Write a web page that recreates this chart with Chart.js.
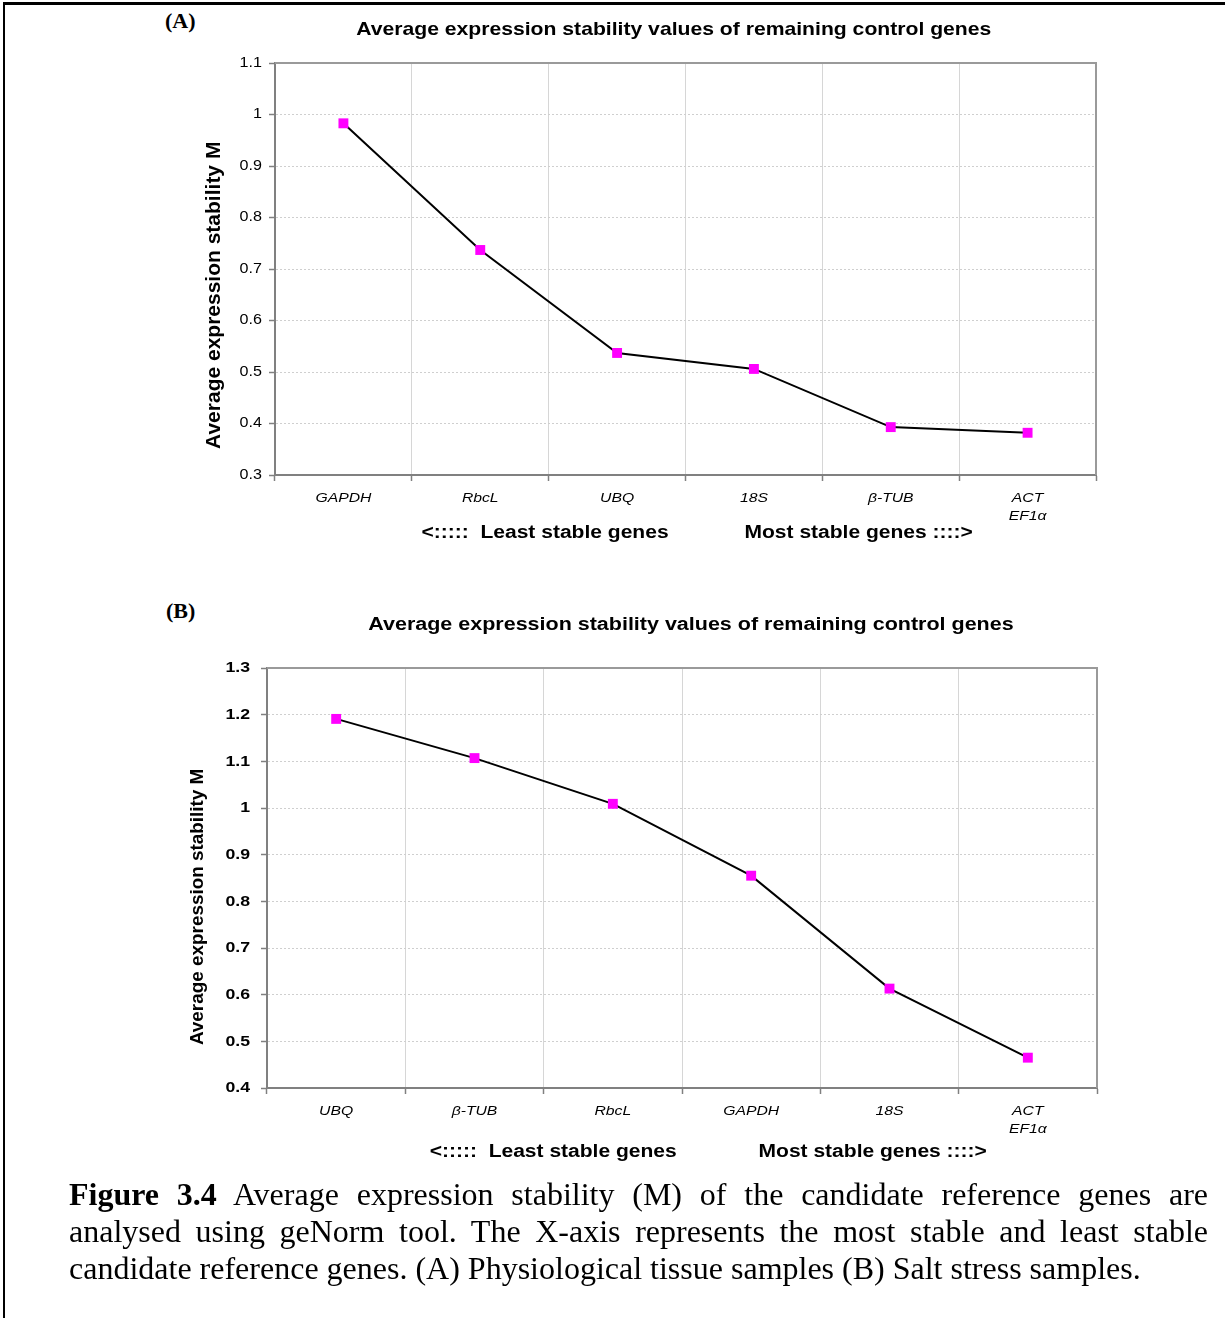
<!DOCTYPE html>
<html>
<head>
<meta charset="utf-8">
<script src="https://cdn.jsdelivr.net/npm/chart.js@4"></script>
<style>
  body { margin: 0; background: #fff; width: 1225px; height: 1318px; overflow: hidden; position: relative; }
  .frame { position: absolute; left: 3px; top: 2px; width: 1400px; height: 1400px; border-top: 3px solid #000; border-left: 2px solid #000; }
  .panel { position: absolute; font: bold 22px "Liberation Serif", "Times New Roman", serif; }
  canvas { position: absolute; left: 0; }
  .caption { position: absolute; left: 69px; top: 1176px; width: 1139px; font: 32px/37px "Liberation Serif", "Times New Roman", serif; text-align: justify; color: #000; }
</style>
</head>
<body>
<div class="frame"></div>
<div class="panel" style="left:165px; top:8px;">(A)</div>
<div class="panel" style="left:166px; top:598px;">(B)</div>
<canvas id="chartA" width="1225" height="560" style="top:0;"></canvas>
<canvas id="chartB" width="1225" height="600" style="top:580px;"></canvas>
<div class="caption"><b>Figure 3.4</b> Average expression stability (M) of the candidate reference genes are analysed using geNorm tool. The X-axis represents the most stable and least stable candidate reference genes. (A) Physiological tissue samples (B) Salt stress samples.</div>

<script>
// genes ordered from least to most stable, geNorm M values
const genesA = ["GAPDH", "RbcL", "UBQ", "18S", "β-TUB", ["ACT", "EF1α"]];
const stabilityA = [0.983, 0.737, 0.537, 0.506, 0.393, 0.382];
const yRangeA = [0.3, 1.1];

const genesB = ["UBQ", "β-TUB", "RbcL", "GAPDH", "18S", ["ACT", "EF1α"]];
const stabilityB = [1.191, 1.107, 1.009, 0.855, 0.613, 0.465];
const yRangeB = [0.4, 1.3];

const yStep = 0.1;
const titleA = "Average expression stability values of remaining control genes    ";
const titleB = "   Average expression stability values of remaining control genes";
const yTitleA = "Average expression stability M         ";
const yTitleB = "Average expression stability M           ";
const xTitleA = "    <:::::  Least stable genes             Most stable genes ::::>";
const xTitleB = "         <:::::  Least stable genes              Most stable genes ::::>";

const TEXT_STRETCH = 1.15;

Chart.defaults.font.family = "'Liberation Sans', Arial, sans-serif";
Chart.defaults.color = "#000";

// wide Excel-style lettering: stretch horizontal text, leave rotated titles alone
function widenText(ctx, sx) {
  const fill = ctx.fillText.bind(ctx);
  const measure = ctx.measureText.bind(ctx);
  ctx.fillText = function (text, x, y) {
    if (Math.abs(ctx.getTransform().b) > 1e-6) return fill(text, x, y);
    ctx.save();
    ctx.translate(x, y);
    ctx.scale(sx, 1);
    fill(text, 0, 0);
    ctx.restore();
  };
  ctx.measureText = function (text) {
    const m = measure(text);
    return {
      width: m.width * sx,
      actualBoundingBoxAscent: m.actualBoundingBoxAscent,
      actualBoundingBoxDescent: m.actualBoundingBoxDescent,
    };
  };
}

// grey frame on the top and right of the plot area
const plotFrame = {
  id: "plotFrame",
  beforeDatasetsDraw(chart) {
    const { ctx, chartArea: a } = chart;
    ctx.save();
    ctx.strokeStyle = "#9a9a9a";
    ctx.lineWidth = 2;
    ctx.beginPath();
    ctx.moveTo(a.left, a.top);
    ctx.lineTo(a.right, a.top);
    ctx.lineTo(a.right, a.bottom);
    ctx.stroke();
    ctx.restore();
  },
};

function makeChart(id, labels, values, yRange, o) {
  const ctx = document.getElementById(id).getContext("2d");
  widenText(ctx, TEXT_STRETCH);
  return new Chart(ctx, {
    type: "line",
    data: {
      labels: labels,
      datasets: [
        {
          data: values,
          borderColor: "#000",
          borderWidth: 2,
          tension: 0,
          pointStyle: "rect",
          pointRadius: 7,
          pointBorderWidth: 0,
          pointBackgroundColor: "#ff00ff",
          pointBorderColor: "#ff00ff",
        },
      ],
    },
    options: {
      responsive: false,
      animation: false,
      layout: { padding: { left: 0, right: o.right, top: 0, bottom: 0 } },
      plugins: {
        legend: { display: false },
        tooltip: { enabled: false },
        title: {
          display: true,
          fullSize: false,
          text: o.title,
          font: { size: o.titleSize, weight: "bold" },
          padding: o.titlePad,
        },
      },
      scales: {
        x: {
          offset: true,
          afterFit: (s) => { s.height = o.xHeight; },
          grid: { offset: true, color: "#d6d6d6", tickColor: "#808080", tickLength: 6, tickWidth: 1.5 },
          border: { color: "#808080", width: 2 },
          ticks: {
            font: { size: 13.7, style: "italic", lineHeight: 1.31 },
            padding: 8,
            maxRotation: 0,
            minRotation: 0,
            autoSkip: false,
          },
          title: {
            display: true,
            text: o.xTitle,
            font: { size: 18.3, weight: "bold" },
            padding: { top: 0, bottom: o.xTitleBottom },
          },
        },
        y: {
          min: yRange[0],
          max: yRange[1],
          afterFit: (s) => { s.width = o.yWidth; },
          grid: { color: "#cfcfcf", tickColor: "#808080", tickLength: 6, tickWidth: 1.5 },
          border: { color: "#808080", width: 2, dash: [2, 2] },
          ticks: {
            stepSize: yStep,
            font: o.yTickFont,
            padding: o.yTickPad,
            callback: (v) => String(+v.toFixed(1)),
          },
          title: {
            display: true,
            text: o.yTitle,
            font: { size: o.yTitleSize, weight: "bold" },
            padding: { top: o.yTitleTop, bottom: 0 },
          },
        },
      },
    },
    plugins: [plotFrame],
  });
}

makeChart("chartA", genesA, stabilityA, yRangeA, {
  right: 129,
  title: titleA,
  titleSize: 18.4,
  titlePad: { top: 19, bottom: 22 },
  xHeight: 85,
  xTitle: xTitleA,
  xTitleBottom: 16,
  yWidth: 275,
  yTickFont: { size: 14 },
  yTickPad: 7,
  yTitle: yTitleA,
  yTitleSize: 21,
  yTitleTop: 201.4,
});

makeChart("chartB", genesB, stabilityB, yRangeB, {
  right: 128,
  title: titleB,
  titleSize: 18.7,
  titlePad: { top: 33.8, bottom: 31.8 },
  xHeight: 92,
  xTitle: xTitleB,
  xTitleBottom: 17,
  yWidth: 267,
  yTickFont: { size: 15.4, weight: "bold" },
  yTickPad: 11,
  yTitle: yTitleB,
  yTitleSize: 18.9,
  yTitleTop: 186.7,
});
</script>
</body>
</html>
